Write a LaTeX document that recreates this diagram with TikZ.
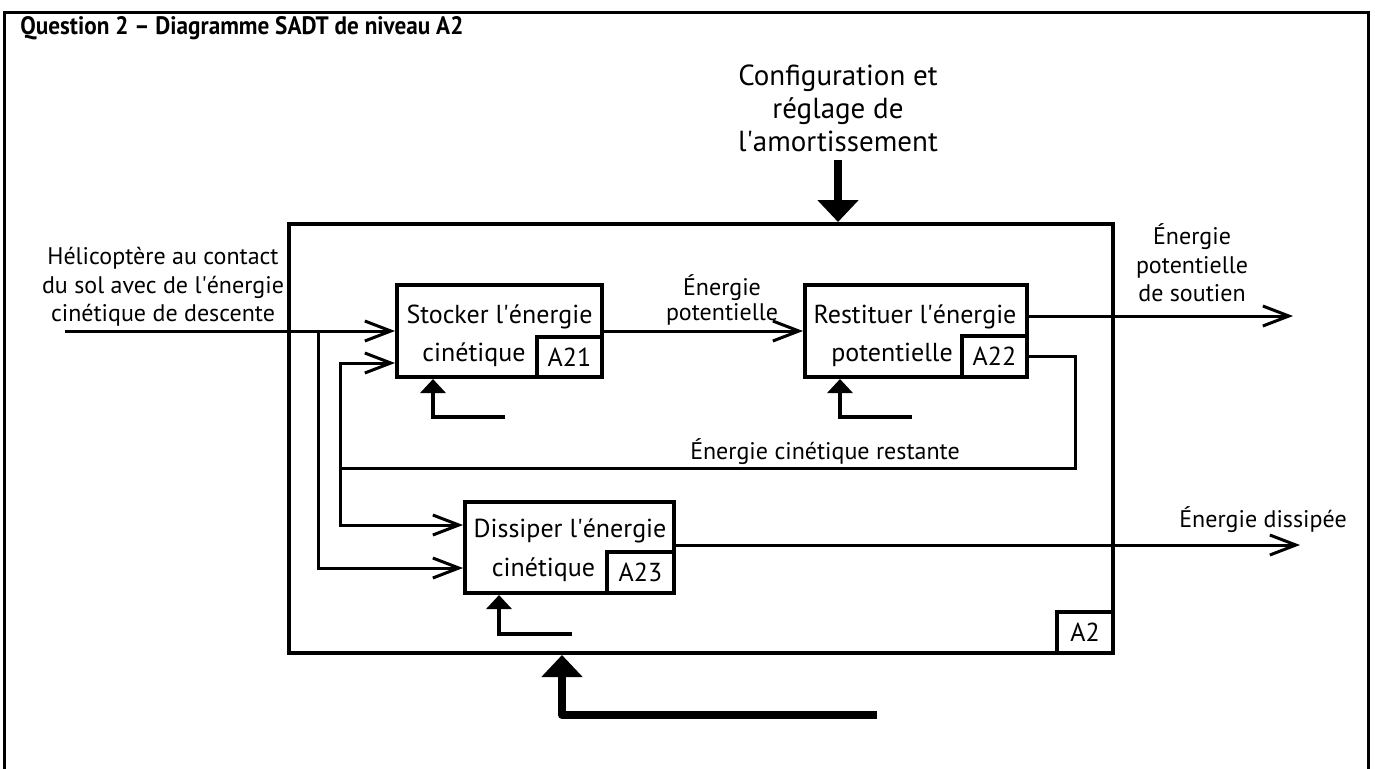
\documentclass[tikz,border=0pt]{standalone}
\usepackage{fontspec}
\setmainfont{PT Sans}
\usetikzlibrary{arrows.meta,calc}
\newcommand\ap{\textquotesingle}
\begin{document}
\begin{tikzpicture}[x=0.5pt,y=-0.5pt,
  box/.style={draw,line width=2pt,inner sep=0pt},
  tag/.style={draw,line width=2pt,inner sep=0pt,anchor=south east,font=\fontsize{13}{15}\selectfont},
  boxtext/.style={inner sep=0pt,anchor=base,font=\fontsize{13}{15}\selectfont},
  lbl/.style={inner sep=0pt,align=center,font=\fontsize{12}{14.25}\selectfont},
  link/.style={line width=1.5pt},
  flow/.style={line width=1.5pt,-{Straight Barb[length=13pt,width=10pt]}},
  ctrl/.style={line width=4pt,line join=round,-{Triangle[length=11pt,width=20pt]}},
  mech/.style={line width=2pt,-{Triangle[length=7pt,width=12.5pt]}},
]
\useasboundingbox (0,0) rectangle (1375,768);

% page frame and heading
\draw[line width=1.5pt] (4.5,780) -- (4.5,12) -- (1368,12) -- (1368,780);
\node[inner sep=0pt,anchor=base west] (title) at (20,34)
  {\resizebox{221.5pt}{9pt}{\bfseries Question 2 – Diagramme SADT de niveau A2}};

% A2 frame
\node[box,minimum width=412pt,minimum height=214.5pt] (a2) at (701,438.5) {};
\node[tag,minimum width=28pt,minimum height=20.5pt] (t2) at (a2.south east) {A2};

% activity boxes
\node[box,minimum width=102.5pt,minimum height=46pt] (a21) at (499.5,331) {};
\node[tag,minimum width=32.5pt,minimum height=20pt] (t21) at (a21.south east) {A21};
\node[boxtext] (a21l1) at (499.5,323) {Stocker l\ap énergie};
\node[boxtext] (a21l2) at (474,361) {cinétique};

\node[box,minimum width=111pt,minimum height=46pt] (a22) at (916,331) {};
\node[tag,minimum width=32.5pt,minimum height=20.5pt] (t22) at (a22.south east) {A22};
\node[boxtext] (a22l1) at (915,323) {Restituer l\ap énergie};
\node[boxtext] (a22l2) at (892,361) {potentielle};

\node[box,minimum width=104.5pt,minimum height=45.5pt] (a23) at (569.5,547.5) {};
\node[tag,minimum width=33.5pt,minimum height=20.5pt] (t23) at (a23.south east) {A23};
\node[boxtext] (a23l1) at (570,537) {Dissiper l\ap énergie};
\node[boxtext] (a23l2) at (543.5,576) {cinétique};

% labels
\node[lbl] (lin) at (163,287) {Hélicoptère au contact\\du sol avec de l\ap énergie\\cinétique de descente};
\node[lbl,font=\fontsize{14.5}{16.5}\selectfont] (lctrl) at (838,108) {Configuration et\\réglage de\\l\ap amortissement};
\node[lbl,font=\fontsize{12}{12.5}\selectfont] (lep) at (722,300) {Énergie\\potentielle};
\node[lbl] (lsout) at (1192,263) {Énergie\\potentielle\\de soutien};
\node[lbl] (ldis) at (1263,520) {Énergie dissipée};
\node[lbl] (lrest) at (825,452) {Énergie cinétique restante};

% inputs
\coordinate (in) at (65,331);
\coordinate (j1) at (318,331);
\draw[flow] (in) -- (a21.west);
\draw[flow] (j1) |- (a23.west |- 0,568);

% remaining kinetic energy loop
\coordinate (fb) at (1075,468);
\coordinate (m) at (340,468);
\draw[link] (t22.east) -| (fb) -- (m);
\draw[flow] (m) |- (a21.west |- 0,363);
\draw[flow] (m) |- (a23.west |- 0,525);

% outputs
\draw[flow] (a21.east) -- (a22.west);
\coordinate (o1) at (1293,316);
\coordinate (o2) at (1300,545);
\draw[flow] (a22.east |- o1) -- (o1);
\draw[flow] (a23.east |- o2) -- (o2);

% control and mechanism
\coordinate (c0) at (838,160);
\draw[ctrl] (c0) -- (a2.north -| c0);
\coordinate (mb) at (877,715);
\draw[ctrl] (mb) -| (a2.south -| 562,0);
\coordinate (m21) at (505,417);
\coordinate (m22) at (912,417);
\coordinate (m23) at (572,634);
\draw[mech] (m21) -| (a21.south -| 433,0);
\draw[mech] (m22) -| (a22.south -| 840,0);
\draw[mech] (m23) -| (a23.south -| 499,0);
\end{tikzpicture}
\end{document}
